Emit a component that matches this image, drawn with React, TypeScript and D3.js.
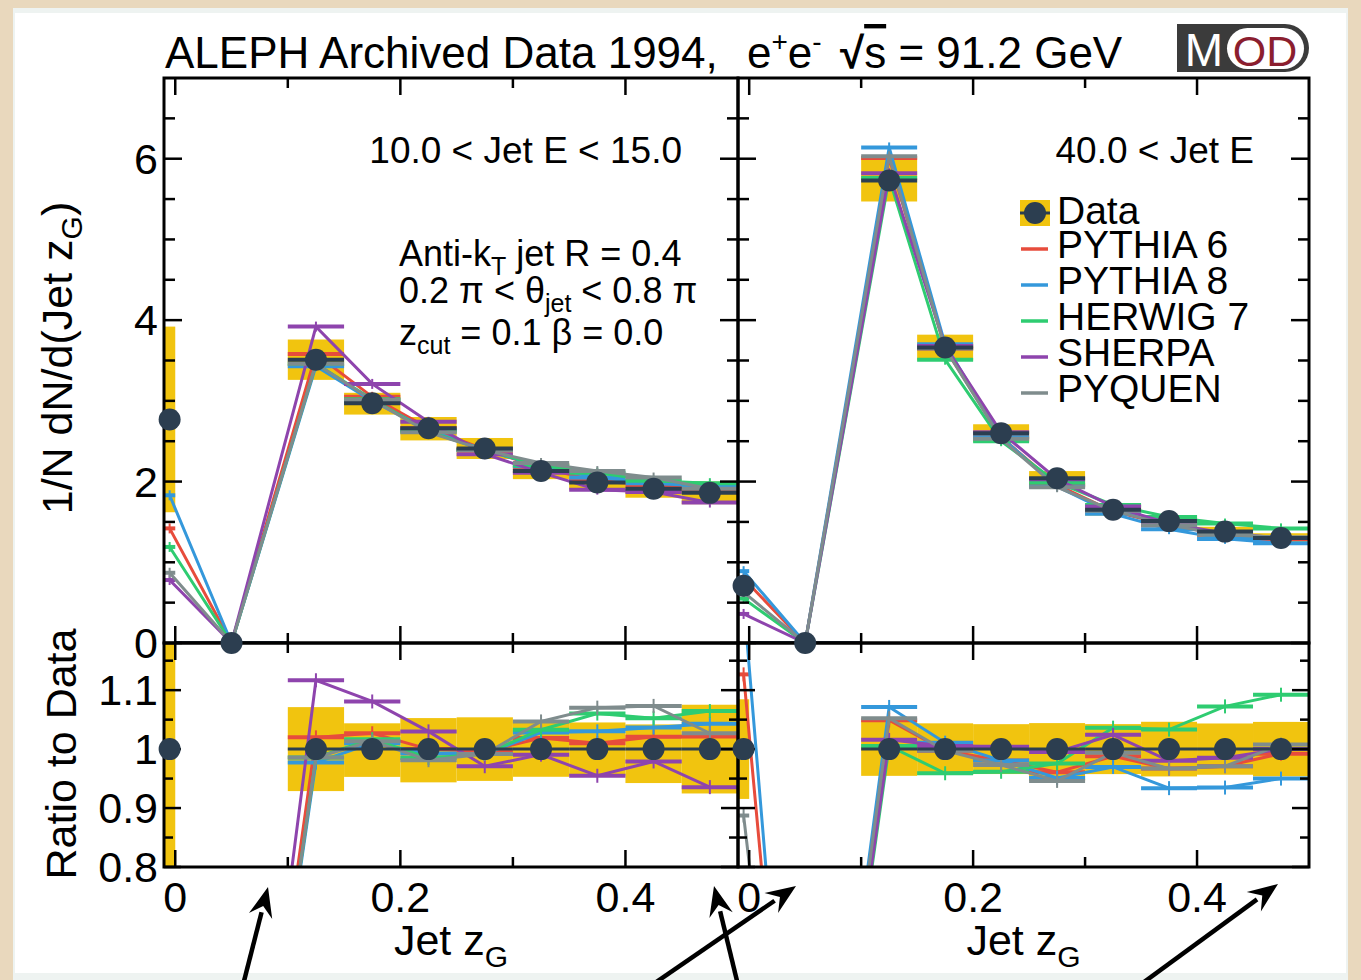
import React from 'react';
import * as d3 from 'd3';

// ---------- data ----------
const binEdges = [-0.01, 0.0, 0.1, 0.15, 0.2, 0.25, 0.3, 0.35, 0.4, 0.45, 0.5];
const generators = ['PYTHIA 6', 'PYTHIA 8', 'HERWIG 7', 'SHERPA', 'PYQUEN'];
const genColors = ['#e74c3c', '#3498db', '#2ecc71', '#8e44ad', '#7f8c8d'];

const leftData = [2.77, 0, 3.51, 2.97, 2.66, 2.41, 2.13, 1.99, 1.91, 1.86];
const leftBandLow = [1.62, 0, 3.26, 2.83, 2.51, 2.28, 2.03, 1.9, 1.8, 1.72];
const leftBandHigh = [3.92, 0, 3.76, 3.1, 2.8, 2.54, 2.23, 2.08, 1.99, 2.0];
const leftPythia6 = [1.42, 0, 3.58, 3.05, 2.66, 2.4, 2.17, 2.01, 1.95, 1.9];
const leftPythia8 = [1.83, 0, 3.43, 3.0, 2.64, 2.39, 2.19, 2.05, 1.98, 1.94];
const leftHerwig7 = [1.19, 0, 3.46, 3.02, 2.62, 2.39, 2.2, 2.11, 2.01, 1.98];
const leftSherpa = [0.78, 0, 3.92, 3.21, 2.74, 2.34, 2.11, 1.9, 1.87, 1.74];
const leftPyquen = [0.87, 0, 3.46, 3.01, 2.61, 2.39, 2.23, 2.13, 2.05, 1.91];

const rightData = [0.71, 0, 5.73, 3.66, 2.6, 2.04, 1.65, 1.51, 1.38, 1.3];
const rightBandLow = [0.65, 0, 5.47, 3.5, 2.49, 1.93, 1.58, 1.44, 1.32, 1.24];
const rightBandHigh = [0.77, 0, 6.01, 3.82, 2.71, 2.13, 1.72, 1.58, 1.44, 1.36];
const rightPythia6 = [0.8, 0, 6.01, 3.65, 2.55, 1.96, 1.63, 1.46, 1.34, 1.29];
const rightPythia8 = [0.89, 0, 6.14, 3.7, 2.55, 1.94, 1.6, 1.41, 1.29, 1.235];
const rightHerwig7 = [0.55, 0, 5.76, 3.51, 2.5, 1.99, 1.71, 1.56, 1.48, 1.42];
const rightSherpa = [0.36, 0, 5.82, 3.68, 2.61, 2.03, 1.69, 1.48, 1.36, 1.3];
const rightPyquen = [0.63, 0, 6.03, 3.65, 2.53, 1.93, 1.64, 1.46, 1.34, 1.31];

const xMajorTicks = [0, 0.2, 0.4];
const xMinorTicks = [0.1, 0.3];
const xTickLabels = ['0', '0.2', '0.4'];
const yMainMajor = [0, 2, 4, 6];
const yMainMinor = [0.5, 1, 1.5, 2.5, 3, 3.5, 4.5, 5, 5.5, 6.5];
const yMainLabels = ['0', '2', '4', '6'];
const yRatioMajor = [0.8, 0.9, 1.0, 1.1];
const yRatioMinor = [0.85, 0.95, 1.05, 1.15];
const yRatioLabels = ['0.8', '0.9', '1', '1.1'];

// ---------- layout ----------
const W = 1361;
const H = 980;
const TOP = 78;
const MID = 643;
const BOT = 867;
const FONT = '"Liberation Sans", Arial, Helvetica, sans-serif';
const DARK = '#2c3e50';
const YELLOW = '#f1c40f';

const yMain = d3.scaleLinear().domain([0, 7]).range([MID, TOP]);
const yRatio = d3.scaleLinear().domain([0.8, 1.18]).range([BOT, MID]);

const panels = [
  {
    id: 'L', range: [164, 738], label: '10.0 < Jet E < 15.0',
    data: leftData, lo: leftBandLow, hi: leftBandHigh,
    mc: [leftPythia6, leftPythia8, leftHerwig7, leftSherpa, leftPyquen],
  },
  {
    id: 'R', range: [738, 1309], label: '40.0 < Jet E',
    data: rightData, lo: rightBandLow, hi: rightBandHigh,
    mc: [rightPythia6, rightPythia8, rightHerwig7, rightSherpa, rightPyquen],
  },
];

const centers = binEdges.slice(0, -1).map((e, i) => (e + binEdges[i + 1]) / 2);

function PanelMarks({ p }: { p: any }) {
  const x = d3.scaleLinear().domain([-0.01, 0.5]).range(p.range);
  const lineMain = d3.line<number>().x((_, i) => x(centers[i])).y((v) => yMain(v));
  const lineRatio = d3.line<number>().x((_, i) => x(centers[i])).y((v) => yRatio(v));
  const ratios = p.mc.map((s: number[]) => s.map((v, i) => (p.data[i] > 0 ? v / p.data[i] : 0)));
  const [x0, x1] = p.range;
  return (
    <g>
      <defs>
        <clipPath id={`clipM${p.id}`}><rect x={x0} y={TOP} width={x1 - x0} height={MID - TOP} /></clipPath>
        <clipPath id={`clipR${p.id}`}><rect x={x0} y={MID} width={x1 - x0} height={BOT - MID} /></clipPath>
      </defs>
      {/* main panel */}
      <g clipPath={`url(#clipM${p.id})`}>
        {p.data.map((d: number, i: number) => d > 0 && (
          <rect key={i} x={x(binEdges[i])} width={x(binEdges[i + 1]) - x(binEdges[i])}
            y={yMain(p.hi[i])} height={yMain(p.lo[i]) - yMain(p.hi[i])} fill={YELLOW} />
        ))}
        {p.mc.map((s: number[], k: number) => (
          <g key={k} stroke={genColors[k]} fill="none">
            <path d={lineMain(s) || ''} strokeWidth={3} />
            {s.map((v, i) => (
              <g key={i}>
                <line x1={x(binEdges[i])} x2={x(binEdges[i + 1])} y1={yMain(v)} y2={yMain(v)} strokeWidth={4} />
                <line x1={x(centers[i])} x2={x(centers[i])} y1={yMain(v) - 5} y2={yMain(v) + 5} strokeWidth={2} />
              </g>
            ))}
          </g>
        ))}
        {p.data.map((d: number, i: number) => (
          <line key={i} x1={x(binEdges[i])} x2={x(binEdges[i + 1])} y1={yMain(d)} y2={yMain(d)} stroke={DARK} strokeWidth={4} />
        ))}
      </g>
      {/* ratio panel */}
      <g clipPath={`url(#clipR${p.id})`}>
        {p.data.map((d: number, i: number) => d > 0 && (
          <rect key={i} x={x(binEdges[i])} width={x(binEdges[i + 1]) - x(binEdges[i])}
            y={yRatio(p.hi[i] / d)} height={yRatio(p.lo[i] / d) - yRatio(p.hi[i] / d)} fill={YELLOW} />
        ))}
        {ratios.map((s: number[], k: number) => (
          <g key={k} stroke={genColors[k]} fill="none">
            <path d={lineRatio(s) || ''} strokeWidth={3} />
            {s.map((v, i) => p.data[i] > 0 && (
              <g key={i}>
                <line x1={x(binEdges[i])} x2={x(binEdges[i + 1])} y1={yRatio(v)} y2={yRatio(v)} strokeWidth={4} />
                <line x1={x(centers[i])} x2={x(centers[i])} y1={yRatio(v) - 7} y2={yRatio(v) + 7} strokeWidth={2} />
              </g>
            ))}
          </g>
        ))}
        {p.data.map((d: number, i: number) => d > 0 && (
          <line key={i} x1={x(binEdges[i])} x2={x(binEdges[i + 1])} y1={yRatio(1)} y2={yRatio(1)} stroke={DARK} strokeWidth={3} />
        ))}
      </g>
    </g>
  );
}

function PanelFrame({ p }: { p: any }) {
  const x = d3.scaleLinear().domain([-0.01, 0.5]).range(p.range);
  const [x0, x1] = p.range;
  const tk: any[] = [];
  const add = (a: number, b: number, c: number, d: number) => tk.push([a, b, c, d]);
  xMajorTicks.forEach((t) => {
    add(x(t), TOP, x(t), TOP + 17); add(x(t), MID, x(t), MID - 17);
    add(x(t), MID, x(t), MID + 17); add(x(t), BOT, x(t), BOT - 17);
  });
  xMinorTicks.forEach((t) => {
    add(x(t), TOP, x(t), TOP + 10); add(x(t), MID, x(t), MID - 10);
    add(x(t), MID, x(t), MID + 10); add(x(t), BOT, x(t), BOT - 10);
  });
  yMainMajor.forEach((t) => { add(x0, yMain(t), x0 + 18, yMain(t)); add(x1, yMain(t), x1 - 18, yMain(t)); });
  yMainMinor.forEach((t) => { add(x0, yMain(t), x0 + 11, yMain(t)); add(x1, yMain(t), x1 - 11, yMain(t)); });
  yRatioMajor.forEach((t) => { add(x0, yRatio(t), x0 + 17, yRatio(t)); add(x1, yRatio(t), x1 - 17, yRatio(t)); });
  yRatioMinor.forEach((t) => { add(x0, yRatio(t), x0 + 9, yRatio(t)); add(x1, yRatio(t), x1 - 9, yRatio(t)); });
  return (
    <g>
      {tk.map((l, i) => <line key={i} x1={l[0]} y1={l[1]} x2={l[2]} y2={l[3]} stroke="#000" strokeWidth={2.5} />)}
      <rect x={x0} y={TOP} width={x1 - x0} height={MID - TOP} fill="none" stroke="#000" strokeWidth={3} />
      <rect x={x0} y={MID} width={x1 - x0} height={BOT - MID} fill="none" stroke="#000" strokeWidth={3} />
      {xMajorTicks.map((t, i) => (
        <text key={i} x={x(t)} y={912} fontSize={43} textAnchor="middle" fontFamily={FONT}>{xTickLabels[i]}</text>
      ))}
      <text x={(x0 + x1) / 2} y={955} fontSize={43} textAnchor="middle" fontFamily={FONT}>
        Jet z<tspan dy={12} fontSize={30}>G</tspan>
      </text>
    </g>
  );
}

function PanelDots({ p }: { p: any }) {
  const x = d3.scaleLinear().domain([-0.01, 0.5]).range(p.range);
  return (
    <g fill={DARK}>
      {p.data.map((d: number, i: number) => <circle key={'m' + i} cx={x(centers[i])} cy={yMain(d)} r={11} />)}
      {p.data.map((d: number, i: number) => d > 0 && <circle key={'r' + i} cx={x(centers[i])} cy={yRatio(1)} r={11} />)}
    </g>
  );
}

function Arrow({ a }: { a: number[] }) {
  const [x1, y1, x2, y2] = a;
  const ang = Math.atan2(y2 - y1, x2 - x1);
  const L = 30, hw = 12;
  const bx = x2 - L * Math.cos(ang), by = y2 - L * Math.sin(ang);
  const px = -Math.sin(ang) * hw, py = Math.cos(ang) * hw;
  return (
    <g>
      <line x1={x1} y1={y1} x2={bx + 4 * Math.cos(ang)} y2={by + 4 * Math.sin(ang)} stroke="#000" strokeWidth={4.5} />
      <path d={`M${x2},${y2} L${bx + px},${by + py} L${bx + 0.35 * (x2 - bx)},${by + 0.35 * (y2 - by)} L${bx - px},${by - py} Z`} fill="#000" />
    </g>
  );
}

const arrows = [
  [243, 985, 268, 887],
  [652, 985, 796, 886],
  [738, 985, 714, 886],
  [1140, 985, 1278, 884],
];

export default function App() {
  const legendY = [258, 294, 330, 366, 402];
  return (
    <div style={{ position: 'absolute', left: 0, top: 0 }}>
      <svg width={W} height={H} style={{ display: 'block' }}>
        <rect x={0} y={0} width={W} height={H} fill="#e9d8bd" />
        <rect x={13} y={8} width={1335} height={972} fill="#eef3f1" />
        <rect x={15} y={13} width={1331} height={960} fill="#ffffff" />

        {panels.map((p) => <PanelMarks key={p.id} p={p} />)}
        {panels.map((p) => <PanelFrame key={p.id} p={p} />)}
        {panels.map((p) => <PanelDots key={p.id} p={p} />)}

        {/* y tick labels */}
        <g fontFamily={FONT} fontSize={43} textAnchor="end">
          {yMainMajor.map((t, i) => <text key={i} x={158} y={yMain(t) + 15}>{yMainLabels[i]}</text>)}
          {yRatioMajor.map((t, i) => <text key={i} x={158} y={yRatio(t) + 15}>{yRatioLabels[i]}</text>)}
        </g>
        {/* axis titles */}
        <text transform="translate(72,358) rotate(-90)" fontFamily={FONT} fontSize={43} textAnchor="middle">
          1/N dN/d(Jet z<tspan dy={10} fontSize={30}>G</tspan><tspan dy={-10}>)</tspan>
        </text>
        <text transform="translate(76,754) rotate(-90)" fontFamily={FONT} fontSize={43} textAnchor="middle">Ratio to Data</text>

        {/* title */}
        <g fontFamily={FONT} fontSize={44}>
          <text x={165} y={68}>ALEPH Archived Data 1994,</text>
          <text x={747} y={68}>e<tspan dy={-17} fontSize={28}>+</tspan><tspan dy={17}>e</tspan><tspan dy={-17} fontSize={28}>-</tspan></text>
          <text x={840} y={68}><tspan fontWeight="bold">√</tspan><tspan style={{ textDecoration: 'overline' }}>s</tspan> = 91.2 GeV</text>
        </g>

        {/* MOD logo */}
        <path d="M1177,24 H1285 A24,24 0 0 1 1285,72 H1177 Z" fill="#3b3b3b" />
        <rect x={1227} y={28} width={77} height={41} rx={20.5} fill="#ffffff" />
        <text x={1204} y={66} fontFamily={FONT} fontSize={46} fill="#ffffff" textAnchor="middle">M</text>
        <text x={1265} y={66} fontFamily={FONT} fontSize={43} fill="#8b1e2f" textAnchor="middle">OD</text>

        {/* panel annotations */}
        <g fontFamily={FONT} fontSize={36}>
          <text x={682} y={163} textAnchor="end" fontSize={37}>{panels[0].label}</text>
          <text x={1254} y={163} textAnchor="end" fontSize={37}>{panels[1].label}</text>
          <text x={399} y={266}>Anti-k<tspan dy={9} fontSize={25}>T</tspan><tspan dy={-9}> jet R = 0.4</tspan></text>
          <text x={399} y={303}>0.2 π &lt; θ<tspan dy={9} fontSize={25}>jet</tspan><tspan dy={-9}> &lt; 0.8 π</tspan></text>
          <text x={399} y={345}>z<tspan dy={9} fontSize={25}>cut</tspan><tspan dy={-9}> = 0.1 β = 0.0</tspan></text>
        </g>

        {/* legend */}
        <g fontFamily={FONT} fontSize={39}>
          <rect x={1020} y={200} width={30} height={26} fill={YELLOW} />
          <line x1={1020} x2={1050} y1={213} y2={213} stroke={DARK} strokeWidth={3} />
          <circle cx={1035} cy={213} r={11} fill={DARK} />
          <text x={1057} y={224}>Data</text>
          {generators.map((g, k) => (
            <g key={g}>
              <line x1={1021} x2={1048} y1={legendY[k] - 9} y2={legendY[k] - 9} stroke={genColors[k]} strokeWidth={3.5} />
              <text x={1057} y={legendY[k]}>{g}</text>
            </g>
          ))}
        </g>

        {arrows.map((a, i) => <Arrow key={i} a={a} />)}
      </svg>
    </div>
  );
}
